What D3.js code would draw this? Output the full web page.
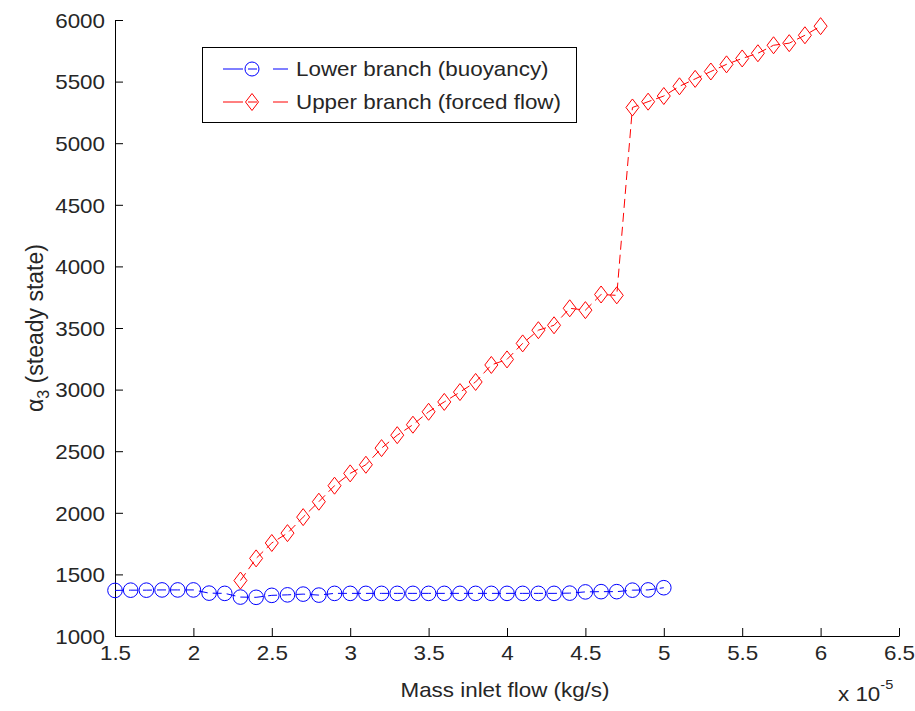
<!DOCTYPE html>
<html>
<head>
<meta charset="utf-8">
<script src="https://cdn.jsdelivr.net/npm/d3@7"></script>
<style>
  html, body { margin: 0; padding: 0; background: #fff; }
  svg { display: block; }
  text { font-family: "Liberation Sans", Arial, Helvetica, sans-serif; fill: #262626; }
</style>
</head>
<body>
<svg id="chart" width="915" height="711"></svg>
<script>
// Mass inlet flow (units of 1e-5 kg/s) and steady-state alpha_3 for each branch
const lowerFlow = [1.5, 1.6, 1.7, 1.8, 1.9, 2.0, 2.1, 2.2, 2.3, 2.4, 2.5, 2.6, 2.7, 2.8, 2.9, 3.0,
                   3.1, 3.2, 3.3, 3.4, 3.5, 3.6, 3.7, 3.8, 3.9, 4.0, 4.1, 4.2, 4.3, 4.4, 4.5, 4.6,
                   4.7, 4.8, 4.9, 5.0];
const lowerAlpha = [1370, 1372, 1372, 1374, 1374, 1374, 1348, 1346, 1316, 1314, 1330, 1334, 1340, 1332, 1346, 1346,
                    1346, 1346, 1346, 1346, 1346, 1346, 1346, 1346, 1346, 1346, 1346, 1346, 1346, 1348, 1358, 1360,
                    1360, 1372, 1374, 1392];

const upperFlow = [2.3, 2.4, 2.5, 2.6, 2.7, 2.8, 2.9, 3.0, 3.1, 3.2, 3.3, 3.4, 3.5, 3.6, 3.7, 3.8,
                   3.9, 4.0, 4.1, 4.2, 4.3, 4.4, 4.5, 4.6, 4.7, 4.8, 4.9, 5.0, 5.1, 5.2, 5.3, 5.4,
                   5.5, 5.6, 5.7, 5.8, 5.9, 6.0];
const upperAlpha = [1450, 1630, 1755, 1835, 1965, 2090, 2220, 2320, 2390, 2525, 2630, 2715, 2820, 2900, 2980, 3062,
                    3200, 3245, 3375, 3482, 3522, 3660, 3645, 3772, 3765, 5290, 5337, 5383, 5462, 5522, 5582, 5640,
                    5688, 5730, 5795, 5812, 5876, 5950];

const xTicks = [1.5, 2, 2.5, 3, 3.5, 4, 4.5, 5, 5.5, 6, 6.5];
const yTicks = [1000, 1500, 2000, 2500, 3000, 3500, 4000, 4500, 5000, 5500, 6000];

const seriesNames = ["Lower branch (buoyancy)", "Upper branch (forced flow)"];
const seriesColors = ["#0000ff", "#ff0000"];

const svg = d3.select("#chart");
const plot = { left: 115, right: 899, top: 20, bottom: 636 };

const x = d3.scaleLinear().domain([1.5, 6.5]).range([plot.left, plot.right]);
const y = d3.scaleLinear().domain([1000, 6000]).range([plot.bottom, plot.top]);

const fontSize = 20;
const stretch = 1.12;

// Axes with inward ticks, no box on top/right
const xAxis = svg.append("g")
  .attr("transform", `translate(0,${plot.bottom})`)
  .call(d3.axisBottom(x).tickValues(xTicks).tickFormat(d3.format("")).tickSizeInner(-8).tickSizeOuter(0).tickPadding(10));
const yAxis = svg.append("g")
  .attr("transform", `translate(${plot.left},0)`)
  .call(d3.axisLeft(y).tickValues(yTicks).tickFormat(d3.format("d")).tickSizeInner(-8).tickSizeOuter(0).tickPadding(10));

[xAxis, yAxis].forEach(g => {
  g.select(".domain").attr("stroke", "#000").attr("stroke-width", 1);
  g.selectAll(".tick line").attr("stroke", "#000").attr("stroke-width", 1);
  g.selectAll(".tick text")
    .attr("font-family", "Liberation Sans, Arial, sans-serif")
    .attr("font-size", fontSize)
    .attr("fill", "#262626");
});
xAxis.selectAll(".tick text").attr("transform", `scale(${stretch},1)`);
yAxis.selectAll(".tick text").attr("transform", `scale(${stretch},1)`).attr("x", -10 / stretch).attr("dy", "0.36em");

// Series lines and markers
const line = d3.line().x(d => x(d[0])).y(d => y(d[1]));
const lowerPts = lowerFlow.map((f, i) => [f, lowerAlpha[i]]);
const upperPts = upperFlow.map((f, i) => [f, upperAlpha[i]]);

const diamond = (hw, hh) => `M0,${-hh}L${hw},0L0,${hh}L${-hw},0Z`;

function drawSeries(pts, color, kind) {
  svg.append("path")
    .datum(pts)
    .attr("d", line)
    .attr("fill", "none")
    .attr("stroke", color)
    .attr("stroke-width", 1)
    .attr("stroke-dasharray", "9,5");
  const g = svg.append("g");
  if (kind === "circle") {
    g.selectAll("circle").data(pts).join("circle")
      .attr("cx", d => x(d[0])).attr("cy", d => y(d[1])).attr("r", 7.3)
      .attr("fill", "none").attr("stroke", color).attr("stroke-width", 1);
  } else {
    g.selectAll("path").data(pts).join("path")
      .attr("transform", d => `translate(${x(d[0])},${y(d[1])})`)
      .attr("d", diamond(6.5, 8.5))
      .attr("fill", "none").attr("stroke", color).attr("stroke-width", 1);
  }
}
drawSeries(lowerPts, seriesColors[0], "circle");
drawSeries(upperPts, seriesColors[1], "diamond");

// Axis labels
svg.append("text")
  .attr("transform", `translate(505,697) scale(${stretch},1)`)
  .attr("text-anchor", "middle")
  .attr("font-size", fontSize)
  .text("Mass inlet flow (kg/s)");

const yl = svg.append("text")
  .attr("transform", `translate(43,328) rotate(-90)`)
  .attr("text-anchor", "middle")
  .attr("font-size", 23);
yl.append("tspan").text("\u03b1");
yl.append("tspan").attr("font-size", 16).attr("dy", 6).text("3");
yl.append("tspan").attr("dy", -6).text(" (steady state)");

// Exponent multiplier for the x axis
const ex = svg.append("text")
  .attr("transform", `translate(838,701) scale(${stretch},1)`)
  .attr("font-size", fontSize);
ex.append("tspan").text("x 10");
ex.append("tspan").attr("font-size", 13).attr("dy", -12).text("-5");

// Legend
const legend = svg.append("g");
legend.append("rect")
  .attr("x", 202.5).attr("y", 47.5).attr("width", 374).attr("height", 75)
  .attr("fill", "#fff").attr("stroke", "#000").attr("stroke-width", 1);
const rows = [69, 102];
rows.forEach((ry, i) => {
  legend.append("line")
    .attr("x1", 223).attr("x2", 288).attr("y1", ry).attr("y2", ry)
    .attr("stroke", seriesColors[i]).attr("stroke-width", 1)
    .attr("stroke-dasharray", "20,5,9,16,16");
  if (i === 0) {
    legend.append("circle").attr("cx", 252).attr("cy", ry).attr("r", 7)
      .attr("fill", "none").attr("stroke", seriesColors[i]);
  } else {
    legend.append("path").attr("transform", `translate(252,${ry})`).attr("d", diamond(6.5, 8.5))
      .attr("fill", "none").attr("stroke", seriesColors[i]);
  }
  legend.append("text")
    .attr("transform", `translate(296,${ry + 7}) scale(${stretch},1)`)
    .attr("font-size", fontSize)
    .text(seriesNames[i]);
});
</script>
</body>
</html>
